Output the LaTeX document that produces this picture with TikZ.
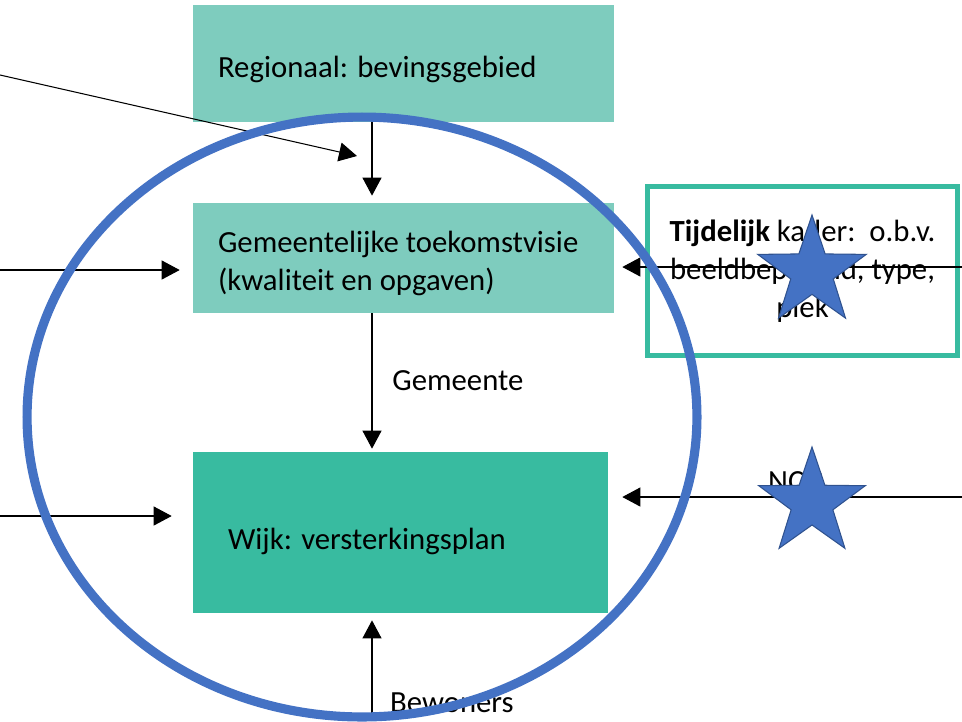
\documentclass[tikz,border=0pt]{standalone}
\usepackage{fontspec}
\setmainfont{Carlito}
\usetikzlibrary{
  positioning,
  arrows.meta,
  shapes.geometric
}
\definecolor{lightteal}{RGB}{126,204,190}
\definecolor{darkteal}{RGB}{56,187,160}
\definecolor{ringblue}{RGB}{68,114,196}
\definecolor{starline}{RGB}{47,82,143}

\begin{document}
\begin{tikzpicture}[
    x=0.02cm, y=-0.02cm, font=\fontsize{17.5}{21.5}\selectfont,
    >={Triangle[length=0.36cm,width=0.38cm]},
    level/.style={
      fill=lightteal,
      inner xsep=0.5cm,
      text width=7.42cm,
      minimum width=8.42cm,
      text height=0.66cm,
      align=flush left
    },
    flow/.style={
      ->,
      draw=black,
      line width=0.6pt
    },
    ring/.style={
      draw=ringblue,
      line width=5.2pt
    },
    mark star/.style={
      star,
      star points=5,
      star point ratio=2.55,
      minimum size=3.2cm,
      inner sep=0pt,
      fill=ringblue,
      draw=starline,
      line width=0.6pt
    }
  ]

  \useasboundingbox (0,0) rectangle (962,721);
  \clip (0,0) rectangle (962,721);

  % Levels
  \node[level, minimum height=2.34cm] (regio) at (403.5,63.5) {Regionaal: bevingsgebied};
  \node[level, minimum height=2.2cm] (visie) at (403.5,258) {Gemeentelijke toekomstvisie\\(kwaliteit en opgaven)};
  \node[level, fill=darkteal, inner xsep=0.7cm, text width=6.9cm, text height=0.78cm,
        minimum width=8.3cm, minimum height=3.22cm] (wijk) at (400.5,532.5) {Wijk: versterkingsplan};

  % Temporary frame
  \node[draw=darkteal, line width=3pt, fill=white, align=center,
        minimum width=6.2cm, minimum height=3.38cm] (kader) at (802.5,271)
        {\textbf{Tijdelijk} kader:\ \ o.b.v.\\beeldbepalend, type,\\plek};

  % Free ends
  \coordinate (diagin) at (0,75);
  \coordinate (diagtip) at (357,156);
  \coordinate (leftin) at (0,270);
  \coordinate (leftwijk) at (0,516);
  \coordinate (rightin) at (962,267);
  \coordinate (rightwijk) at (962,497);
  \coordinate (bottomin) at (372,721);

  % Connectors
  \draw[flow] (diagin) -- (diagtip);
  \draw[flow] (regio.south -| 372,0) -- ([yshift=0.14cm]visie.north -| 372,0);
  \draw[flow] (visie.south -| 372,0) -- node[right=0.28cm] {Gemeente} ([yshift=0.06cm]wijk.north -| 372,0);
  \draw[flow] (leftin) -- ([xshift=-0.26cm]visie.west |- leftin);
  \draw[flow] (leftwijk) -- ([xshift=-0.42cm]wijk.west |- leftwijk);
  \draw[flow] (rightin) -- ([xshift=0.16cm]visie.east |- rightin);
  \draw[flow] (rightwijk) -- ([xshift=0.28cm]wijk.east |- rightwijk);
  \draw[flow] (bottomin) -- ([yshift=-0.14cm]wijk.south -| bottomin);

  % Labels
  \node[anchor=west] (ncg) at (762,482) {NCG};
  \node[anchor=west] (bewoners) at (384,703) {Bewoners};

  % Ring
  \draw[ring] (362,417) ellipse [x radius=6.7cm, y radius=6cm];

  % Stars
  \node[mark star, minimum size=2.28cm] (star1) at (812,272) {};
  \node[mark star, minimum size=2.24cm] (star2) at (812,503) {};

\end{tikzpicture}
\end{document}
